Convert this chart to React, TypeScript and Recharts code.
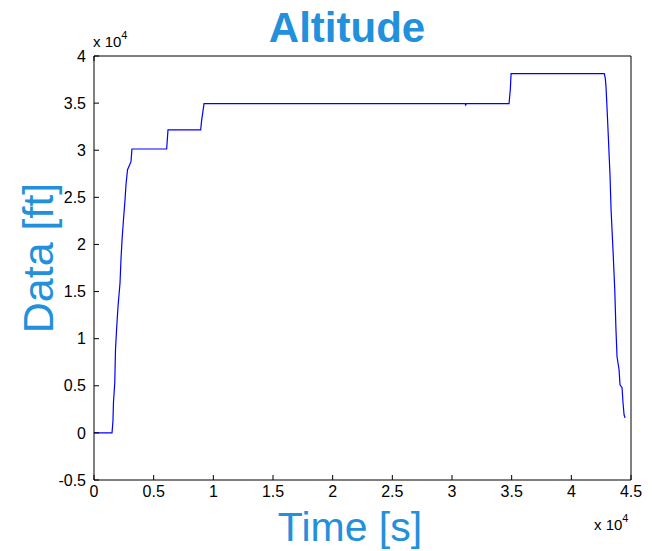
import { LineChart, Line, XAxis, YAxis } from "recharts";

// flight time in seconds and altitude in feet
const timeS = [
  0, 1510, 1590, 1630, 1740, 1800, 1890, 2010, 2180, 2260, 2350, 2470, 2600,
  2680, 2810, 3100, 3180, 6090, 6200, 8940, 9010, 9220, 31100, 31150, 31200,
  34780, 34890, 34950, 42760, 42850, 42910, 42990, 43100, 43240, 43330, 43490,
  43640, 43740, 43830, 44000, 44080, 44250, 44330, 44420, 44500,
];
const altitudeFt = [
  0, 0, 1290, 3200, 5320, 8820, 10950, 13390, 15900, 18380, 20500, 22620,
  24750, 26340, 27930, 28780, 30130, 30130, 32150, 32150, 33060, 34940, 34940,
  34800, 34940, 34940, 36500, 38120, 38120, 37590, 36640, 34510, 31430, 27400,
  23680, 19440, 15190, 10950, 8080, 6700, 5110, 4790, 3200, 1920, 1600,
];
const xTicks = [0, 5000, 10000, 15000, 20000, 25000, 30000, 35000, 40000, 45000];
const yTicks = [-5000, 0, 5000, 10000, 15000, 20000, 25000, 30000, 35000, 40000];

const data = timeS.map((t, i) => ({ t, alt: altitudeFt[i] }));

const FONT = "'Liberation Sans', Arial, sans-serif";
const BLUE = "#2390dc";
const tickStyle = { fontSize: 16, fill: "#000", fontFamily: FONT };
const fmt = (v: number) => `${v / 10000}`;
const blank = () => "";

export default function App() {
  return (
    <div style={{ position: "absolute", left: 0, top: 0, background: "#fff" }}>
      <LineChart
        width={652}
        height={551}
        data={data}
        margin={{ top: 55, right: 20, left: 34, bottom: 41 }}
      >
        <XAxis
          xAxisId="b"
          dataKey="t"
          type="number"
          domain={[0, 45000]}
          ticks={xTicks}
          tickFormatter={fmt}
          height={30}
          tick={tickStyle}
          tickSize={-5}
          tickMargin={11}
          stroke="#000"
          interval={0}
        />
        <XAxis
          xAxisId="t"
          orientation="top"
          type="number"
          domain={[0, 45000]}
          ticks={xTicks}
          tickFormatter={blank}
          height={1}
          tickSize={-5}
          stroke="#000"
          interval={0}
        />
        <YAxis
          yAxisId="l"
          type="number"
          domain={[-5000, 40000]}
          ticks={yTicks}
          tickFormatter={fmt}
          width={60}
          tick={tickStyle}
          tickSize={-5}
          tickMargin={13}
          stroke="#000"
          interval={0}
        />
        <YAxis
          yAxisId="r"
          orientation="right"
          type="number"
          domain={[-5000, 40000]}
          ticks={yTicks}
          tickFormatter={blank}
          width={1}
          tickSize={-5}
          stroke="#000"
          interval={0}
        />
        <Line
          xAxisId="b"
          yAxisId="l"
          type="linear"
          dataKey="alt"
          stroke="#0000ff"
          strokeWidth={1.2}
          dot={false}
          isAnimationActive={false}
        />
        <text x={347} y={42} textAnchor="middle" fontFamily={FONT} fontWeight="bold" fontSize={42} fill={BLUE}>
          Altitude
        </text>
        <text x={350} y={541} textAnchor="middle" fontFamily={FONT} fontSize={41} fill={BLUE}>
          Time [s]
        </text>
        <text
          x={0}
          y={0}
          transform="translate(53 258) rotate(-90)"
          textAnchor="middle"
          fontFamily={FONT}
          fontSize={43}
          fill={BLUE}
        >
          Data [ft]
        </text>
        <text x={93} y={47} fontFamily={FONT} fontSize={15} fill="#000">
          x 10<tspan dy={-8} fontSize={11}>4</tspan>
        </text>
        <text x={594} y={530} fontFamily={FONT} fontSize={15} fill="#000">
          x 10<tspan dy={-8} fontSize={11}>4</tspan>
        </text>
      </LineChart>
    </div>
  );
}
